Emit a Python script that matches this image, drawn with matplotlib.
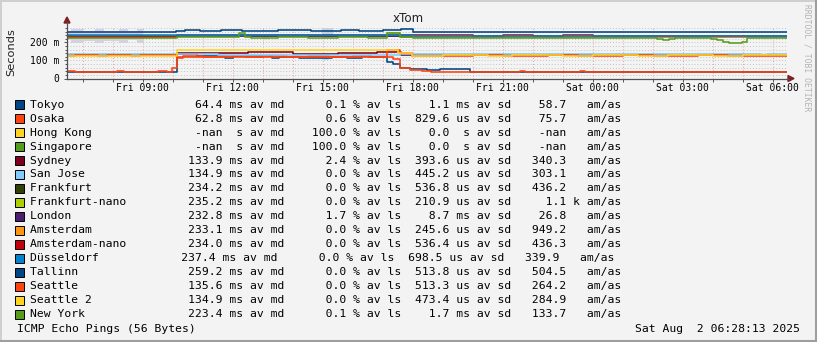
import matplotlib
matplotlib.use('Agg')
import matplotlib.pyplot as plt
from matplotlib.patches import Rectangle, Polygon
from matplotlib.lines import Line2D

W, H = 817, 342
T0, T1 = 6.47, 30.47          # Fri 06:28 -> Sat 06:28 (hours since Fri 00:00)

# ---------------- legend data ----------------
names = ['Tokyo', 'Osaka', 'Hong Kong', 'Singapore', 'Sydney', 'San Jose', 'Frankfurt',
         'Frankfurt-nano', 'London', 'Amsterdam', 'Amsterdam-nano', 'Düsseldorf',
         'Tallinn', 'Seattle', 'Seattle 2', 'New York']
colors = ['#004586', '#ff420e', '#ffd320', '#579d1c', '#7e0021', '#83caff', '#314004',
          '#aecf00', '#4b1f6f', '#ff950e', '#c5000b', '#0084d1',
          '#004586', '#ff420e', '#ffd320', '#579d1c']
med = ['64.4', '62.8', '-nan', '-nan', '133.9', '134.9', '234.2', '235.2', '232.8', '233.1',
       '234.0', '237.4', '259.2', '135.6', '134.9', '223.4']
med_p = ['m', 'm', ' ', ' ', 'm', 'm', 'm', 'm', 'm', 'm', 'm', 'm', 'm', 'm', 'm', 'm']
loss = ['0.1', '0.6', '100.0', '100.0', '2.4', '0.0', '0.0', '0.0', '1.7', '0.0', '0.0',
        '0.0', '0.0', '0.0', '0.0', '0.1']
sd = ['1.1', '829.6', '0.0', '0.0', '393.6', '445.2', '536.8', '210.9', '8.7', '245.6',
      '536.4', '698.5', '513.8', '513.3', '473.4', '1.7']
sd_p = ['m', 'u', ' ', ' ', 'u', 'u', 'u', 'u', 'm', 'u', 'u', 'u', 'u', 'u', 'u', 'm']
amas = ['58.7', '75.7', '-nan', '-nan', '340.3', '303.1', '436.2', '1.1', '26.8', '949.2',
        '436.3', '339.9', '504.5', '264.2', '284.9', '133.7']
amas_p = [' ', ' ', ' ', ' ', ' ', ' ', ' ', 'k', ' ', ' ', ' ', ' ', ' ', ' ', ' ', ' ']

# ---------------- series (step data, ms) ----------------
tokyo_t = [6.47, 10.13, 10.8, 11.73, 12.0, 13.3, 13.55, 14.2, 15.3, 15.8, 16.3, 16.6,
           17.14, 17.34, 17.57, 17.9, 18.47, 18.9, 19.9]
tokyo_v = [38, 134, 125, 112, 123, 112, 121, 114, 121, 114, 124, 120,
           93, 79, 60, 53, 47, 51, 38]
osaka_t = [6.47, 6.74, 8.14, 8.37, 9.5, 9.8, 9.97, 10.13, 10.33, 11.0, 11.7, 12.4, 13.0,
           13.8, 14.5, 15.2, 16.0, 16.5, 17.1, 17.34, 17.57, 17.9, 18.3, 18.6, 19.9,
           21.57, 21.75, 23.57, 23.75]
osaka_v = [42, 35, 42, 35, 42, 35, 60, 112, 125, 119, 126, 121, 124,
           118, 124, 120, 125, 118, 122, 107, 57, 47, 40, 34, 35,
           40, 35, 40, 35]
sydney_t = [6.47, 9.5, 9.8, 10.13, 12.5, 14.0, 15.5, 16.8, 17.6, 19.0, 21.0, 22.0, 24.0, 25.5, 27.0, 28.5]
sydney_v = [129, 131, 129, 143, 145, 136, 143, 145, 131, 129, 131, 129, 131, 129, 131, 129]
sanjose_t = [6.47, 10.13, 11.5, 13.0, 15.0, 17.57, 29.6, 29.8]
sanjose_v = [134, 134, 130, 132, 128, 134, 131, 134]
frank_t = [6.47, 10.13, 17.6, 18.0]
frank_v = [231, 234, 229, 231]
franknano_t = [6.47, 10.13, 17.14, 17.57, 18.0]
franknano_v = [232, 235, 251, 233, 232]
london_t = [6.47, 10.13, 18.0]
london_v = [233, 236, 233]
amst_t = [6.47, 10.13, 11.0, 12.0, 13.0, 14.0, 15.0, 16.0, 17.0, 18.0, 19.5, 20.5, 21.5,
          22.5, 23.5, 24.5]
amst_v = [237, 240, 242, 240, 242, 240, 242, 240, 242, 230, 232, 230, 232, 230, 232, 230]
amnano_t = [6.47, 10.13, 11.0, 12.0, 13.0, 14.0, 15.0, 16.0, 17.0, 18.0, 19.0, 20.0,
            21.0, 22.0, 23.0, 24.0, 25.0]
amnano_v = [237, 240, 242, 240, 242, 240, 242, 240, 242, 239, 241, 238, 241, 238, 240, 237, 237]
duss_t = [6.47, 10.13, 18.0]
duss_v = [243, 244, 238]
tallinn_t = [6.47, 10.1, 10.4, 10.9, 11.6, 12.3, 13.5, 14.6, 15.6, 16.2, 17.0, 17.6, 18.0]
tallinn_v = [257, 263, 272, 266, 269, 266, 268, 265, 270, 266, 270, 275, 261]
seattle_t = [6.47, 6.74, 7.5, 7.8, 8.6, 8.9, 10.13, 17.14, 17.57, 17.97, 20.0, 21.0, 22.5,
             23.5, 25.0, 26.0, 27.5, 28.5]
seattle_v = [125, 128, 125, 128, 125, 128, 122, 158, 140, 127, 129, 127, 129, 127, 129, 127, 129, 127]
seattle2_t = [6.47, 6.74, 7.6, 7.9, 8.5, 8.8, 10.13, 17.5, 17.97, 19.0, 20.5, 21.3, 23.0,
              24.0, 25.5, 26.5, 28.0, 29.0]
seattle2_v = [126, 124, 126, 124, 126, 124, 158, 140, 126, 128, 126, 128, 126, 128, 126, 128, 126, 128]
newyork_t = [6.47, 10.13, 11.6, 12.2, 12.4, 12.6, 13.5, 14.5, 15.5, 16.5, 17.14, 17.57,
             18.0, 26.14, 26.34, 26.54, 26.74, 27.94, 28.14, 28.34, 28.54, 28.97, 29.14]
newyork_v = [226, 228, 232, 251, 229, 223, 228, 224, 228, 226, 250, 232,
             226, 219, 214, 219, 226, 219, 214, 204, 196, 201, 226]

series = [(tokyo_t, tokyo_v), (osaka_t, osaka_v), None, None, (sydney_t, sydney_v),
          (sanjose_t, sanjose_v), (frank_t, frank_v), (franknano_t, franknano_v),
          (london_t, london_v), (amst_t, amst_v), (amnano_t, amnano_v), (duss_t, duss_v),
          (tallinn_t, tallinn_v), (seattle_t, seattle_v), (seattle2_t, seattle2_v),
          (newyork_t, newyork_v)]

# smoke (spread) areas
smoke_t = [6.47, 6.6, 7.0, 7.4, 7.7, 8.2, 8.5, 8.8, 9.0]
smoke_hi = [262, 276, 266, 276, 262, 276, 264, 276, 276]
smoke_lo = [212, 198, 210, 196, 208, 198, 212, 200, 200]
blip_t = [[12.97, 13.2], [14.97, 15.33], [14.0, 14.24], [14.97, 15.2]]
blip_lo = [214, 223, 114, 103]
blip_hi = [242, 280, 136, 120]
blip_c = ['#d5e3cc', '#c8d3df', '#c9d6e3', '#c9d6e3']

xticks = [9, 12, 15, 18, 21, 24, 27, 30]
xlabels = ['Fri 09:00', 'Fri 12:00', 'Fri 15:00', 'Fri 18:00', 'Fri 21:00',
           'Sat 00:00', 'Sat 03:00', 'Sat 06:00']
yticks = [0, 100, 200]
ylabels = ['0', '100 m', '200 m']

BG = '#f3f3f3'
MONO = 'DejaVu Sans Mono'


def fx(px):
    return px / W


def fy(py):
    return 1 - py / H


fig = plt.figure(figsize=(W / 100, H / 100), dpi=100, facecolor=BG)

# 3D-ish frame
fig.add_artist(Line2D([fx(0), fx(W)], [fy(0.5), fy(0.5)], color='#cfcfcf', lw=1.4))
fig.add_artist(Line2D([fx(0.5), fx(0.5)], [fy(0), fy(H)], color='#cfcfcf', lw=1.4))
fig.add_artist(Line2D([fx(0), fx(W)], [fy(H - 1), fy(H - 1)], color='#9e9e9e', lw=2.2))
fig.add_artist(Line2D([fx(W - 1), fx(W - 1)], [fy(0), fy(H)], color='#9e9e9e', lw=2.2))

ax = fig.add_axes([fx(67), fy(78.5), 720 / W, 50.4 / H])
ax.set_facecolor(BG)
ax.set_xlim(T0, T1)
ax.set_ylim(0, 280)
for s in ax.spines.values():
    s.set_visible(False)

# grid
for h in range(7, 31):
    ax.axvline(h, color='#e4a0a0', lw=0.7, ls=(0, (1, 2)), zorder=0)
for v in range(20, 281, 20):
    ax.axhline(v, color='#c4c4c4', lw=0.7, ls=(0, (1, 2)), zorder=0)

# smoke
ax.fill_between(smoke_t, smoke_lo, smoke_hi, step='post', color='#d8cfe2', lw=0, zorder=1)
for t, lo, hi, c in zip(blip_t, blip_lo, blip_hi, blip_c):
    ax.fill_between(t, lo, hi, color=c, lw=0, zorder=1)

# lines
for i, sr in enumerate(series):
    if sr is None:
        continue
    t, v = sr
    ax.step(t + [T1], v + [v[-1]], where='post', color=colors[i], lw=1.15, zorder=2 + i)

ax.set_xticks(xticks)
ax.set_xticklabels(xlabels, fontfamily=MONO, fontsize=7.05)
ax.set_xticks(range(7, 31), minor=True)
ax.set_yticks(yticks)
ax.set_yticklabels(ylabels, fontfamily=MONO, fontsize=7.05)
ax.set_yticks(range(0, 281, 20), minor=True)
ax.tick_params(axis='x', which='both', length=2, width=0.7, color='#555555', pad=1.5)
ax.tick_params(axis='y', which='major', length=2, width=0.7, color='#555555', pad=3.5)
ax.tick_params(axis='y', which='minor', length=1.2, width=0.7, color='#555555')

# axes with arrows
fig.add_artist(Line2D([fx(67), fx(789)], [fy(78.5), fy(78.5)], color='#505050', lw=0.9))
fig.add_artist(Line2D([fx(67), fx(67)], [fy(78.5), fy(22)], color='#505050', lw=0.9))
fig.add_artist(Polygon([[fx(788), fy(75.5)], [fx(794), fy(78.5)], [fx(788), fy(81.5)]],
                       closed=True, color='#7f1f1f', transform=fig.transFigure))
fig.add_artist(Polygon([[fx(64), fy(23)], [fx(67), fy(17)], [fx(70), fy(23)]],
                       closed=True, color='#7f1f1f', transform=fig.transFigure))

# titles
fig.text(fx(408), fy(19), 'xTom', ha='center', va='center', fontsize=8.6, color='#222222')
fig.text(fx(11), fy(52), 'Seconds', rotation=90, ha='center', va='center', fontsize=8.2,
         color='#222222')
fig.text(fx(807), fy(58), 'RRDTOOL / TOBI OETIKER', rotation=270, ha='center', va='center',
         fontsize=5.8, fontfamily=MONO, color='#b4b4b4')

# legend
for i, name in enumerate(names):
    yc = 104.5 + 14 * i
    fig.add_artist(Rectangle((fx(15), fy(yc + 4.5)), 9 / W, 9 / H, facecolor=colors[i],
                             edgecolor='black', lw=0.7, transform=fig.transFigure))
    pad = name + ' ' * (22 - len(name.encode('utf-8')))
    line = (f"{pad}{med[i]:>6} {med_p[i]}s av md{loss[i]:>9} % av ls"
            f"{sd[i]:>7} {sd_p[i]}s av sd{amas[i]:>8} {amas_p[i]} am/as")
    fig.text(fx(30), fy(yc), line, ha='left', va='center', fontsize=8.2, fontfamily=MONO,
             color='black')

fig.text(fx(17), fy(328.5), 'ICMP Echo Pings (56 Bytes)', ha='left', va='center',
         fontsize=8.2, fontfamily=MONO, color='black')
fig.text(fx(800), fy(328.5), 'Sat Aug  2 06:28:13 2025', ha='right', va='center',
         fontsize=8.2, fontfamily=MONO, color='black')

fig.savefig('out.png', dpi=100, facecolor=BG)
